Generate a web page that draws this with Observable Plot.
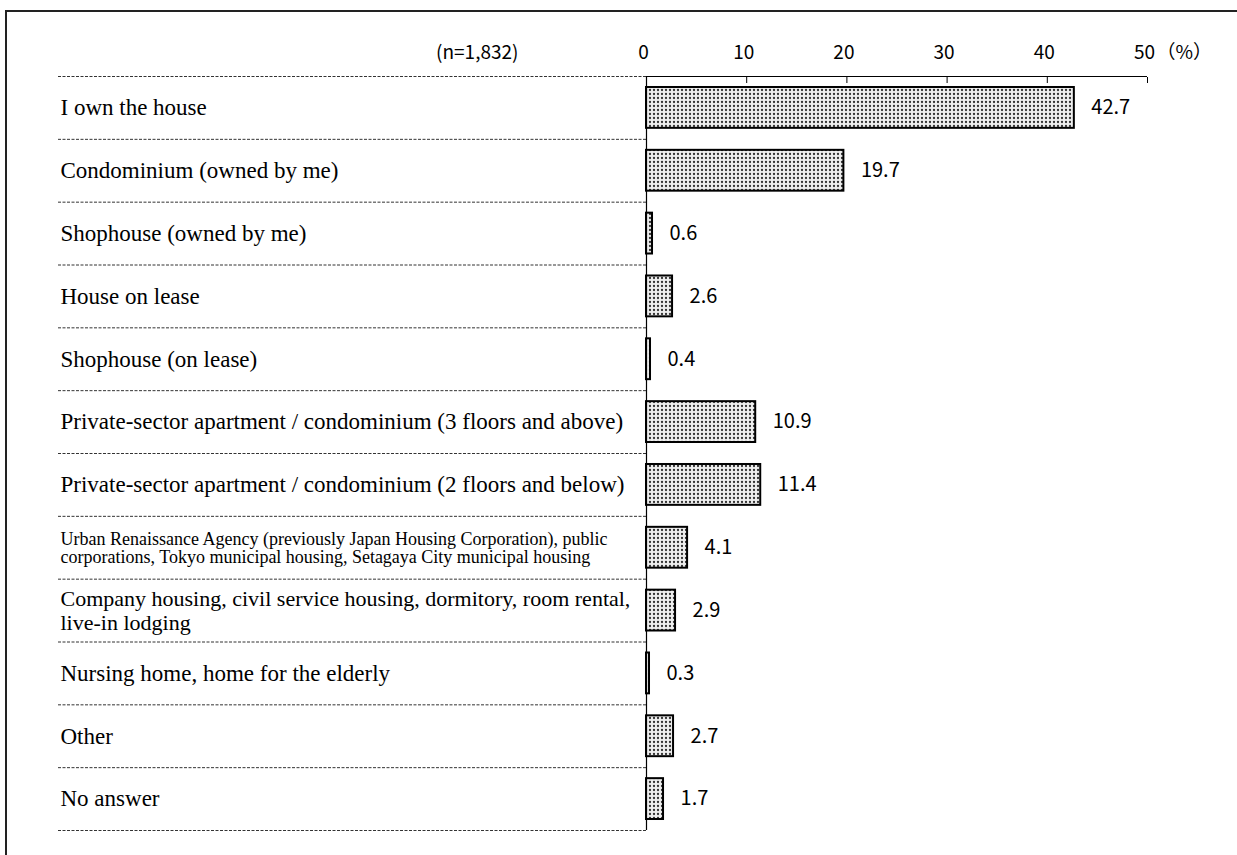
<!DOCTYPE html>
<html><head><meta charset="utf-8">
<script src="https://cdn.jsdelivr.net/npm/d3@7"></script>
<script src="https://cdn.jsdelivr.net/npm/@observablehq/plot@0.6"></script>
<style>
html,body{margin:0;background:#fff;overflow:hidden;}
#wrap{position:relative;width:1237px;height:855px;overflow:hidden;background:#fff;}
#btop{position:absolute;left:5px;top:10px;width:1232px;height:2px;background:#222;}
#bleft{position:absolute;left:5px;top:10px;width:2px;height:845px;background:#222;}
#chart{position:absolute;left:0;top:0;}
</style></head><body>
<div id="wrap"><div id="btop"></div><div id="bleft"></div><div id="chart"></div></div>
<script>
const categories = [
  "I own the house",
  "Condominium (owned by me)",
  "Shophouse (owned by me)",
  "House on lease",
  "Shophouse (on lease)",
  "Private-sector apartment / condominium (3 floors and above)",
  "Private-sector apartment / condominium (2 floors and below)",
  "Urban Renaissance Agency (previously Japan Housing Corporation), public\ncorporations, Tokyo municipal housing, Setagaya City municipal housing",
  "Company housing, civil service housing, dormitory, room rental,\nlive-in lodging",
  "Nursing home, home for the elderly",
  "Other",
  "No answer"
];
const values = [42.7, 19.7, 0.6, 2.6, 0.4, 10.9, 11.4, 4.1, 2.9, 0.3, 2.7, 1.7];
const xTicks = [0, 10, 20, 30, 40, 50];
const sampleNote = "(n=1,832)";
const unitNote = "（%）";
const smallLabel = categories[7];
const twoLineLabel = categories[8];

const data = categories.map((c, i) => ({category: c, value: values[i]}));
const n = categories.length;
const yRange = [76, 830];
const pIn = 0.35, pOut = 0.175;
const step = (yRange[1] - yRange[0]) / (n - pIn + 2 * pOut);
const sans = "'Noto Sans CJK JP', Roboto, sans-serif";
const serif = "'Liberation Serif', 'Times New Roman', serif";

const plot = Plot.plot({
  width: 1237, height: 855,
  marginTop: 76, marginBottom: 25, marginLeft: 58, marginRight: 591,
  x: {domain: [0, 50], range: [646, 1147]},
  y: {domain: categories, range: yRange, paddingInner: pIn, paddingOuter: pOut, round: false, axis: null},
  style: {background: "transparent"},
  marks: [
    Plot.ruleY(categories, {dy: -step / 2, stroke: "#333", strokeWidth: 1, strokeDasharray: "3,1.5"}),
    Plot.ruleY([categories[n - 1]], {dy: step / 2, stroke: "#333", strokeWidth: 1, strokeDasharray: "3,1.5"}),
    Plot.ruleY([categories[0]], {x1: xTicks[0], x2: xTicks[xTicks.length - 1], dy: -step / 2, stroke: "#000", strokeWidth: 1.2}),
    Plot.axisX({anchor: "top", ticks: xTicks.slice(1), tickSize: 6, dy: 6, tickFormat: () => "", label: null, stroke: "#000"}),
    Plot.text(xTicks, {x: d => d, text: d => String(d), frameAnchor: "top", dy: -31, dx: -3, fontSize: 19, fontFamily: sans, fill: "#000"}),
    Plot.text([unitNote], {x: () => xTicks[xTicks.length - 1], text: d => d, frameAnchor: "top", dy: -31, dx: 9, textAnchor: "start", fontSize: 19, fontFamily: sans, fill: "#000"}),
    Plot.text([sampleNote], {frameAnchor: "top-right", text: d => d, dx: -128, dy: -31, textAnchor: "end", fontSize: 19, letterSpacing: 1, fontFamily: sans, fill: "#000"}),
    Plot.barX(data, {x: "value", y: "category", fill: "url(#dots)", stroke: "#000", strokeWidth: 2}),
    Plot.ruleX([0], {stroke: "#000", strokeWidth: 1.2}),
    Plot.text(data, {x: "value", y: "category", text: d => d.value.toFixed(1), dx: 17, textAnchor: "start", fontSize: 20, fontFamily: sans, fill: "#000"}),
    Plot.text(data, {filter: d => d.category !== smallLabel && d.category !== twoLineLabel, y: "category", text: "category", frameAnchor: "left", dx: 2, textAnchor: "start", fontSize: 23, fontFamily: serif, fill: "#000"}),
    Plot.text(data, {filter: d => d.category === twoLineLabel, y: "category", text: "category", frameAnchor: "left", dx: 2, textAnchor: "start", fontSize: 22, lineHeight: 1.07, letterSpacing: -0.6, fontFamily: serif, fill: "#000"}),
    Plot.text(data, {filter: d => d.category === smallLabel, y: "category", text: "category", frameAnchor: "left", dx: 2, textAnchor: "start", fontSize: 18, lineHeight: 1.0, letterSpacing: -0.45, fontFamily: serif, fill: "#000"})
  ]
});
const svg = plot.tagName.toLowerCase() === "svg" ? plot : plot.querySelector("svg");
svg.insertAdjacentHTML("afterbegin",
  '<defs><pattern id="dots" width="4" height="4" patternUnits="userSpaceOnUse">' +
  '<rect width="4" height="4" fill="#efefef"></rect>' +
  '<circle cx="2" cy="2" r="1.15" fill="#333"></circle></pattern></defs>');
document.getElementById("chart").appendChild(plot);
</script>
</body></html>
